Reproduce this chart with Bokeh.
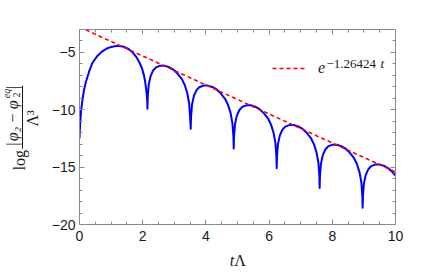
import math
from bokeh.plotting import figure
from bokeh.layouts import row, column
from bokeh.models import (Range1d, LinearAxis, Label, BoxAnnotation, Legend,
                          LegendItem, FixedTicker)
from bokeh.embed import file_html
from bokeh.resources import INLINE

# ---- data ----
blue_t = [0.00, 0.02, 0.05, 0.09, 0.14, 0.20, 0.30, 0.40, 0.55, 0.70, 0.85, 1.00,
          1.20, 1.40, 1.55, 1.70, 1.80, 1.90, 1.98, 2.04, 2.08, 2.11, 2.13, 2.145, 2.15,
          2.16, 2.19, 2.25, 2.33, 2.42, 2.56, 2.69, 2.83, 2.97, 3.10, 3.24, 3.33, 3.41, 3.47, 3.50, 3.52,
          3.53, 3.56, 3.62, 3.70, 3.79, 3.93, 4.06, 4.20, 4.34, 4.47, 4.61, 4.70, 4.78, 4.84, 4.87, 4.88,
          4.89, 4.92, 4.98, 5.06, 5.15, 5.29, 5.42, 5.56, 5.70, 5.83, 5.97, 6.06, 6.14, 6.20, 6.23, 6.24,
          6.25, 6.28, 6.34, 6.42, 6.51, 6.65, 6.78, 6.92, 7.06, 7.19, 7.33, 7.42, 7.50, 7.56, 7.59, 7.60,
          7.61, 7.64, 7.70, 7.78, 7.87, 8.01, 8.14, 8.28, 8.42, 8.55, 8.69, 8.78, 8.86, 8.92, 8.95, 8.96,
          8.97, 9.00, 9.06, 9.14, 9.23, 9.37, 9.50, 9.64, 9.78, 9.91, 10.00]
blue_y = [-12.5, -11.2, -10.1, -9.2, -8.3, -7.6, -6.7, -5.95, -5.35, -4.95, -4.68, -4.52,
          -4.42, -4.5, -4.7, -5.05, -5.4, -5.9, -6.4, -7.0, -7.6, -8.2, -8.8, -9.3, -9.9,
          -8.90, -7.83, -7.06, -6.57, -6.30, -6.15, -6.16, -6.28, -6.50, -6.84, -7.33, -7.84, -8.54, -9.45, -10.58, -11.65,
          -10.63, -9.56, -8.79, -8.30, -8.03, -7.88, -7.89, -8.01, -8.23, -8.57, -9.06, -9.57, -10.27, -11.18, -12.31, -13.37,
          -12.35, -11.28, -10.51, -10.02, -9.75, -9.60, -9.61, -9.73, -9.95, -10.29, -10.78, -11.29, -11.99, -12.90, -14.03, -15.09,
          -14.07, -13.00, -12.23, -11.74, -11.47, -11.32, -11.33, -11.45, -11.67, -12.01, -12.50, -13.01, -13.71, -14.62, -15.75, -16.81,
          -15.79, -14.72, -13.95, -13.46, -13.19, -13.04, -13.05, -13.17, -13.39, -13.73, -14.22, -14.73, -15.43, -16.34, -17.47, -18.53,
          -17.51, -16.44, -15.67, -15.18, -14.91, -14.76, -14.77, -14.89, -15.11, -15.45, -15.74]

red_t = [0.0, 10.0]
red_y = [-2.78, -15.42]

x_ticks = [0, 2, 4, 6, 8, 10]
x_tick_labels = ["0", "2", "4", "6", "8", "10"]
x_minor = [0.5 * i for i in range(21)]
y_ticks = [-20, -15, -10, -5]
y_tick_labels = ["\u221220", "\u221215", "\u221210", "\u22125"]
y_minor = list(range(-20, -2))

legend_base = "e"
legend_exp = "\u22121.26424"
legend_exp_var = "t"
x_label_t = "t"
x_label_L = "\u039b"
y_label_log = "log"
y_label_num = ["|", "\u03c6\u2082", "\u2212", "\u03c6", "|"]
y_label_sub = "2"
y_label_sup = "eq"
y_label_den = "\u039b\u00b3"

SERIF = "Liberation Serif"
SANS = "Liberation Sans"
AX = "#8a8a8a"
TXT = "#1a1a1a"

# ---------------- main plot ----------------
p = figure(width=382, height=250, x_range=Range1d(0, 10), y_range=Range1d(-20, -3),
           output_backend="svg", toolbar_location=None,
           min_border_left=37, min_border_right=29, min_border_top=29, min_border_bottom=26)
p.grid.visible = False
p.outline_line_color = None

blue = p.line(blue_t, blue_y, line_color="#0000ff", line_width=2, line_join="round")
red = p.line(red_t, red_y, line_color="#ff0000", line_width=1.6, line_dash="4 3")

xt = FixedTicker(ticks=x_ticks, minor_ticks=x_minor)
yt = FixedTicker(ticks=y_ticks, minor_ticks=y_minor)

def style(ax, ticker, labels=None, standoff=5):
    ax.ticker = ticker
    ax.axis_line_color = AX
    ax.major_tick_line_color = AX
    ax.minor_tick_line_color = AX
    ax.major_tick_in = 5
    ax.major_tick_out = 0
    ax.minor_tick_in = 3
    ax.minor_tick_out = 0
    if labels is None:
        ax.major_label_text_color = None
        ax.major_label_text_font_size = "1px"
        ax.major_label_standoff = 0
    else:
        ax.major_label_overrides = labels
        ax.major_label_text_font = SANS
        ax.major_label_text_font_size = "14px"
        ax.major_label_text_color = TXT
        ax.major_label_standoff = standoff

style(p.xaxis[0], xt, {k: v for k, v in zip(x_ticks, x_tick_labels)}, 6)
style(p.yaxis[0], yt, {k: v for k, v in zip(y_ticks, y_tick_labels)}, 4)
top = LinearAxis()
right = LinearAxis()
style(top, xt)
style(right, yt)
p.add_layout(top, "above")
p.add_layout(right, "right")

leg = Legend(items=[LegendItem(label=legend_base, renderers=[red])],
             location=(193, 147), padding=0, margin=0, border_line_color=None,
             background_fill_alpha=0, glyph_width=34, glyph_height=16, label_standoff=12,
             label_text_font=SERIF, label_text_font_style="italic", label_text_font_size="16px",
             label_text_color=TXT)
p.add_layout(leg)
p.add_layout(Label(x=247, y=161, x_units="screen", y_units="screen", text=legend_exp,
                   text_font=SERIF, text_font_size="13px", text_color=TXT,
                   text_align="left", text_baseline="middle"))
p.add_layout(Label(x=301, y=161, x_units="screen", y_units="screen", text=legend_exp_var,
                   text_font=SERIF, text_font_size="13px", text_font_style="italic", text_color=TXT,
                   text_align="left", text_baseline="middle"))

# ---------------- y-axis label strip (left) ----------------
H = 250
yl = figure(width=42, height=H, x_range=Range1d(0, 42), y_range=Range1d(0, H),
            output_backend="svg", toolbar_location=None, min_border=0,
            x_axis_type=None, y_axis_type=None)
yl.grid.visible = False
yl.outline_line_color = None

A = math.pi / 2
def ylab(x, wy, t, size, style_="normal"):
    yl.add_layout(Label(x=x, y=H - wy, text=t, angle=A,
                        text_font=SERIF, text_font_size=size, text_font_style=style_,
                        text_color=TXT, text_align="center", text_baseline="middle"))

ylab(19, 167.5, y_label_log, "16px")
num_pos = [147, 134, 113.5, 96.5, 74.5]
num_style = ["normal", "italic", "normal", "italic", "normal"]
for t, wy, st in zip(y_label_num, num_pos, num_style):
    ylab(11.5, wy, t, "16px", st)
ylab(16, 84, y_label_sub, "10px")
ylab(6, 82, y_label_sup, "10px", "italic")
ylab(32, 114, y_label_den, "16px")
yl.add_layout(BoxAnnotation(left=21.5, right=22.5, bottom=H - 153, top=H - 72,
                            fill_color=TXT, fill_alpha=1, line_color=None))

# ---------------- x-axis label strip (bottom) ----------------
xl = figure(width=424, height=24, x_range=Range1d(0, 424), y_range=Range1d(0, 24),
            output_backend="svg", toolbar_location=None, min_border=0,
            x_axis_type=None, y_axis_type=None)
xl.grid.visible = False
xl.outline_line_color = None
xl.add_layout(Label(x=231.5, y=14, text=x_label_t, text_font=SERIF, text_font_size="16px",
                    text_font_style="italic", text_color=TXT,
                    text_align="center", text_baseline="middle"))
xl.add_layout(Label(x=239.5, y=14, text=x_label_L, text_font=SERIF, text_font_size="16px",
                    text_color=TXT, text_align="center", text_baseline="middle"))

layout = column(row(yl, p, spacing=0), xl, spacing=0)
open("out.html", "w").write(file_html(layout, INLINE))
